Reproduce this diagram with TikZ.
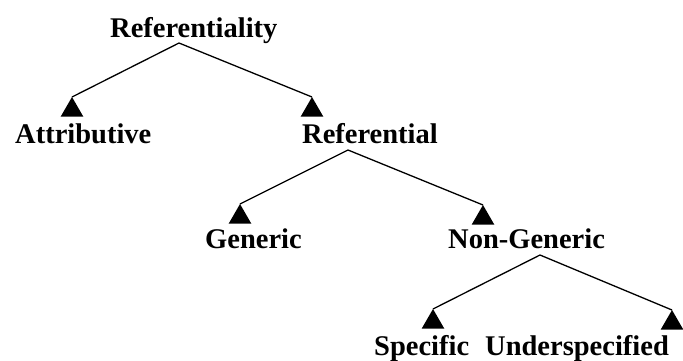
\documentclass[tikz,border=0pt]{standalone}
\usepackage{fontspec}
\setmainfont{Liberation Serif}
\usepackage{tikz}
\usetikzlibrary{shapes.geometric}
\tikzset{
  term/.style={anchor=base west,inner sep=0pt,font=\fontsize{28.5}{30}\selectfont\bfseries},
  tip/.style={regular polygon,regular polygon sides=3,fill=black,inner sep=0pt,
    outer sep=0pt,minimum size=26pt,anchor=corner 1},
  branch/.style={draw=black,line width=1.3pt}
}
\begin{document}
\begin{tikzpicture}[x=1pt,y=-1pt]
\useasboundingbox (0,0) rectangle (683,360);
% labels
\node[term] (root) at (110,37) {Referentiality};
\node[term] (attr) at (15,143) {Attributive};
\node[term] (refl) at (302,143) {Referential};
\node[term] (gen) at (205,248) {Generic};
\node[term] (nongen) at (448,248) {Non-Generic};
\node[term] (spec) at (374,355) {Specific};
\node[term] (under) at (485,355) {Underspecified};
% branching points
\coordinate (root-fork) at (179,43);
\coordinate (refl-fork) at (348,150);
\coordinate (nongen-fork) at (540,255);
% heads
\node[tip] (attr-tip) at (72,97) {};
\node[tip] (refl-tip) at (312,97) {};
\node[tip] (gen-tip) at (240,204) {};
\node[tip] (nongen-tip) at (483,205) {};
\node[tip] (spec-tip) at (433,309) {};
\node[tip] (under-tip) at (672,310) {};
% edges
\draw[branch] (attr-tip.corner 1) -- (root-fork) -- (refl-tip.corner 1);
\draw[branch] (gen-tip.corner 1) -- (refl-fork) -- (nongen-tip.corner 1);
\draw[branch] (spec-tip.corner 1) -- (nongen-fork) -- (under-tip.corner 1);
\end{tikzpicture}
\end{document}
